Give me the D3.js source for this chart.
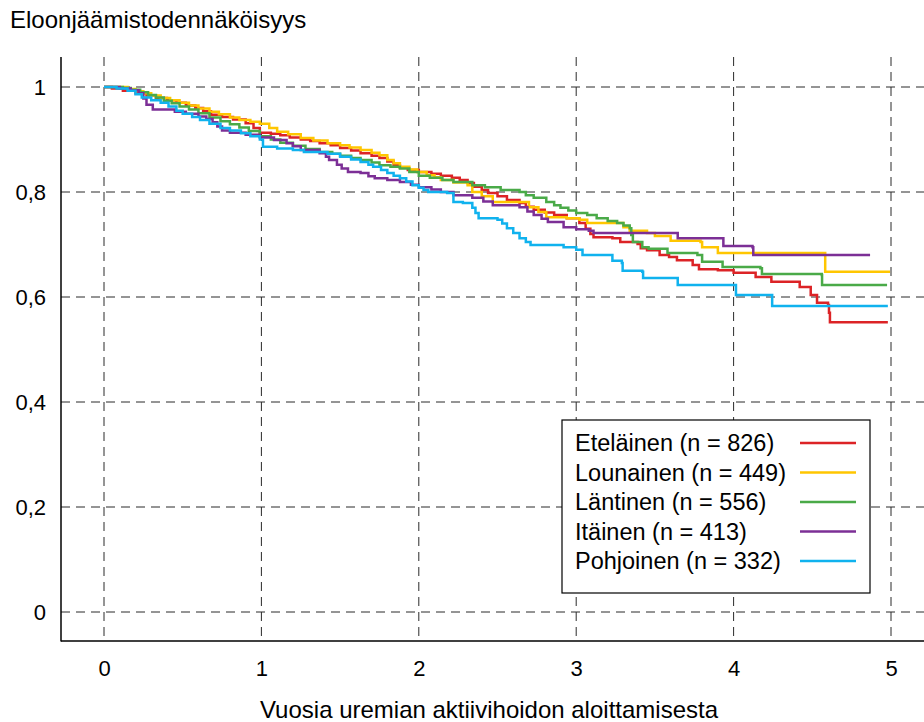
<!DOCTYPE html>
<html>
<head>
<meta charset="utf-8">
<script src="https://cdn.jsdelivr.net/npm/d3@7"></script>
<style>
  html, body { margin: 0; padding: 0; background: #fff; }
  svg { display: block; font-family: Arial, "Liberation Sans", sans-serif; }
</style>
</head>
<body>
<svg id="chart" width="924" height="722"></svg>
<script>
// ---- Data (time in years, survival probability) ----
const seriesNames = ["Eteläinen (n = 826)", "Lounainen (n = 449)", "Läntinen (n = 556)", "Itäinen (n = 413)", "Pohjoinen (n = 332)"];
const seriesColors = ["#dc2326", "#ffc600", "#4aaa48", "#7c2f96", "#10b2ee"];

const etelainen = [[0,1],[0.05,0.997],[0.12,0.993],[0.2,0.988],[0.27,0.984],[0.33,0.979],[0.4,0.975],[0.46,0.970],[0.52,0.965],[0.58,0.960],[0.63,0.954],[0.68,0.947],[0.75,0.943],[0.82,0.938],[0.9,0.931],[0.95,0.922],[0.99,0.913],[1.06,0.911],[1.12,0.908],[1.18,0.904],[1.25,0.900],[1.31,0.897],[1.37,0.893],[1.44,0.889],[1.5,0.884],[1.57,0.879],[1.63,0.874],[1.7,0.869],[1.75,0.865],[1.8,0.858],[1.84,0.851],[1.88,0.846],[1.93,0.842],[2.0,0.838],[2.08,0.835],[2.14,0.831],[2.21,0.827],[2.26,0.823],[2.31,0.817],[2.35,0.810],[2.4,0.804],[2.44,0.798],[2.5,0.792],[2.56,0.785],[2.64,0.779],[2.68,0.772],[2.73,0.766],[2.8,0.761],[2.86,0.756],[2.94,0.750],[3.02,0.741],[3.06,0.730],[3.09,0.720],[3.11,0.714],[3.23,0.712],[3.28,0.705],[3.39,0.701],[3.41,0.693],[3.45,0.689],[3.53,0.680],[3.59,0.676],[3.64,0.670],[3.74,0.661],[3.78,0.653],[3.9,0.651],[4.0,0.646],[4.14,0.638],[4.24,0.629],[4.42,0.619],[4.49,0.604],[4.53,0.589],[4.6,0.585],[4.606,0.570],[4.612,0.552],[4.98,0.552]];

const lounainen = [[0,1],[0.15,0.996],[0.2,0.992],[0.25,0.988],[0.3,0.984],[0.36,0.979],[0.42,0.975],[0.48,0.970],[0.54,0.965],[0.6,0.959],[0.67,0.953],[0.73,0.948],[0.8,0.942],[0.86,0.937],[0.93,0.934],[0.99,0.930],[1.05,0.922],[1.1,0.915],[1.17,0.910],[1.25,0.903],[1.33,0.898],[1.42,0.893],[1.5,0.889],[1.56,0.885],[1.63,0.880],[1.7,0.875],[1.75,0.870],[1.8,0.861],[1.84,0.855],[1.88,0.848],[1.94,0.843],[1.99,0.838],[2.05,0.832],[2.1,0.828],[2.14,0.823],[2.22,0.818],[2.31,0.813],[2.34,0.800],[2.4,0.792],[2.47,0.781],[2.64,0.781],[2.7,0.771],[2.76,0.762],[2.81,0.752],[2.94,0.750],[3.02,0.747],[3.07,0.741],[3.26,0.741],[3.3,0.733],[3.34,0.726],[3.45,0.722],[3.5,0.716],[3.6,0.707],[3.79,0.705],[3.8,0.695],[3.9,0.684],[4.58,0.684],[4.582,0.648],[4.994,0.648]];

const lantinen = [[0,1],[0.12,0.998],[0.17,0.995],[0.23,0.990],[0.28,0.985],[0.33,0.980],[0.38,0.974],[0.43,0.969],[0.48,0.963],[0.54,0.957],[0.6,0.950],[0.67,0.942],[0.74,0.935],[0.8,0.929],[0.86,0.923],[0.92,0.916],[0.99,0.906],[1.06,0.900],[1.12,0.894],[1.2,0.888],[1.28,0.882],[1.37,0.876],[1.45,0.873],[1.5,0.869],[1.57,0.865],[1.63,0.861],[1.7,0.856],[1.75,0.851],[1.82,0.848],[1.88,0.845],[1.94,0.838],[2.0,0.831],[2.07,0.827],[2.15,0.823],[2.22,0.819],[2.34,0.813],[2.42,0.809],[2.52,0.804],[2.64,0.800],[2.68,0.794],[2.73,0.789],[2.81,0.781],[2.86,0.775],[2.9,0.770],[2.95,0.765],[3.0,0.760],[3.07,0.756],[3.13,0.750],[3.2,0.745],[3.26,0.741],[3.3,0.736],[3.34,0.731],[3.35,0.718],[3.36,0.705],[3.42,0.695],[3.46,0.692],[3.58,0.684],[3.77,0.680],[3.8,0.667],[3.93,0.657],[4.17,0.655],[4.18,0.644],[4.56,0.642],[4.562,0.623],[4.975,0.623]];

const itainen = [[0,1],[0.1,0.997],[0.17,0.994],[0.22,0.988],[0.25,0.978],[0.27,0.966],[0.31,0.957],[0.45,0.953],[0.52,0.949],[0.6,0.944],[0.65,0.939],[0.69,0.933],[0.72,0.925],[0.75,0.917],[0.8,0.913],[0.9,0.909],[0.99,0.904],[1.08,0.899],[1.16,0.893],[1.2,0.887],[1.25,0.880],[1.37,0.874],[1.41,0.867],[1.43,0.861],[1.48,0.852],[1.51,0.845],[1.55,0.838],[1.63,0.836],[1.68,0.830],[1.72,0.826],[1.8,0.823],[1.88,0.819],[1.95,0.814],[2.0,0.809],[2.08,0.805],[2.14,0.800],[2.22,0.794],[2.34,0.789],[2.41,0.782],[2.47,0.775],[2.64,0.771],[2.69,0.763],[2.73,0.756],[2.78,0.749],[2.82,0.743],[2.92,0.733],[3.0,0.729],[3.08,0.726],[3.11,0.722],[3.64,0.722],[3.645,0.712],[3.93,0.712],[3.935,0.697],[4.12,0.695],[4.125,0.680],[4.867,0.680]];

const pohjoinen = [[0,1],[0.08,0.997],[0.15,0.993],[0.2,0.986],[0.24,0.980],[0.3,0.975],[0.36,0.970],[0.41,0.963],[0.46,0.955],[0.5,0.949],[0.56,0.943],[0.61,0.937],[0.67,0.930],[0.74,0.922],[0.8,0.917],[0.87,0.912],[0.93,0.906],[0.99,0.900],[1.01,0.886],[1.1,0.883],[1.2,0.880],[1.27,0.876],[1.42,0.873],[1.5,0.867],[1.57,0.862],[1.63,0.857],[1.68,0.852],[1.71,0.848],[1.76,0.842],[1.8,0.836],[1.84,0.831],[1.88,0.826],[1.92,0.820],[1.96,0.813],[2.0,0.808],[2.03,0.804],[2.06,0.800],[2.18,0.798],[2.22,0.781],[2.28,0.779],[2.34,0.770],[2.36,0.760],[2.38,0.750],[2.5,0.747],[2.53,0.740],[2.56,0.731],[2.6,0.722],[2.64,0.712],[2.68,0.705],[2.71,0.699],[2.92,0.695],[3.0,0.690],[3.04,0.680],[3.22,0.680],[3.23,0.669],[3.29,0.665],[3.295,0.650],[3.42,0.648],[3.425,0.636],[3.64,0.636],[3.645,0.623],[4.01,0.623],[4.015,0.604],[4.24,0.604],[4.245,0.583],[4.98,0.583]];

const xTicks = [0, 1, 2, 3, 4, 5];
const xTickLabels = ["0", "1", "2", "3", "4", "5"];
const yTicks = [0, 0.2, 0.4, 0.6, 0.8, 1];
const yTickLabels = ["0", "0,2", "0,4", "0,6", "0,8", "1"];
const yTitle = "Eloonjäämistodennäköisyys";
const xTitle = "Vuosia uremian aktiivihoidon aloittamisesta";

// ---- Layout ----
const svg = d3.select("#chart");
const FONT = "Arial, 'Liberation Sans', sans-serif";
const plotLeft = 61, plotRight = 924, plotTop = 57, plotBottom = 641;
const x = d3.scaleLinear().domain([0, 5]).range([104, 891]);
const y = d3.scaleLinear().domain([0, 1]).range([612, 87]);

// grid
const grid = svg.append("g").attr("stroke", "#2a2a2a").attr("stroke-width", 1).attr("stroke-dasharray", "9,6");
grid.selectAll("line.v").data(xTicks).join("line")
  .attr("x1", d => x(d)).attr("x2", d => x(d))
  .attr("y1", plotTop).attr("y2", plotBottom);
grid.selectAll("line.h").data(yTicks).join("line")
  .attr("x1", plotLeft).attr("x2", plotRight)
  .attr("y1", d => y(d)).attr("y2", d => y(d));

// axes lines
svg.append("line").attr("x1", plotLeft).attr("x2", plotLeft).attr("y1", plotTop).attr("y2", plotBottom + 0.5)
  .attr("stroke", "#000").attr("stroke-width", 1.5);
svg.append("line").attr("x1", plotLeft).attr("x2", plotRight).attr("y1", plotBottom).attr("y2", plotBottom)
  .attr("stroke", "#000").attr("stroke-width", 1.5);

// axes with labels
const yAxis = d3.axisLeft(y).tickValues(yTicks).tickSize(0).tickPadding(0)
  .tickFormat((d, i) => yTickLabels[i]);
const gy = svg.append("g").attr("transform", "translate(46,0)").call(yAxis);
gy.select(".domain").remove();
gy.selectAll("text").attr("font-size", 22).attr("fill", "#000").attr("font-family", FONT).attr("dy", "0.35em");

const xAxis = d3.axisBottom(x).tickValues(xTicks).tickSize(0).tickPadding(0)
  .tickFormat((d, i) => xTickLabels[i]);
const gx = svg.append("g").attr("transform", "translate(0,668)").call(xAxis);
gx.select(".domain").remove();
gx.selectAll("text").attr("font-size", 22).attr("fill", "#000").attr("font-family", FONT).attr("dy", "0.35em");

// titles
svg.append("text").attr("x", 10).attr("y", 28).attr("font-size", 24).attr("fill", "#000").text(yTitle);
svg.append("text").attr("x", 489).attr("y", 718).attr("text-anchor", "middle").attr("font-size", 24).attr("fill", "#000").text(xTitle);

// curves
const allSeries = [etelainen, lounainen, lantinen, itainen, pohjoinen];
const line = d3.line().x(d => x(d[0])).y(d => y(d[1])).curve(d3.curveStepAfter);
svg.append("g").selectAll("path").data(allSeries).join("path")
  .attr("d", line).attr("fill", "none")
  .attr("stroke", (d, i) => seriesColors[i]).attr("stroke-width", 2.5)
  .attr("stroke-linejoin", "miter");

// legend
const lg = svg.append("g");
lg.append("rect").attr("x", 562).attr("y", 420).attr("width", 308).attr("height", 173)
  .attr("fill", "#fff").attr("stroke", "#000").attr("stroke-width", 1.2);
const rows = lg.selectAll("g.row").data(seriesNames).join("g")
  .attr("transform", (d, i) => `translate(0,${443 + i * 29.5})`);
rows.append("text").attr("x", 575).attr("y", 0).attr("dy", "0.35em").attr("font-size", 23.5).attr("fill", "#000").text(d => d);
rows.append("line").attr("x1", 800).attr("x2", 856).attr("y1", 0).attr("y2", 0)
  .attr("stroke", (d, i) => seriesColors[i]).attr("stroke-width", 2.5);
</script>
</body>
</html>
